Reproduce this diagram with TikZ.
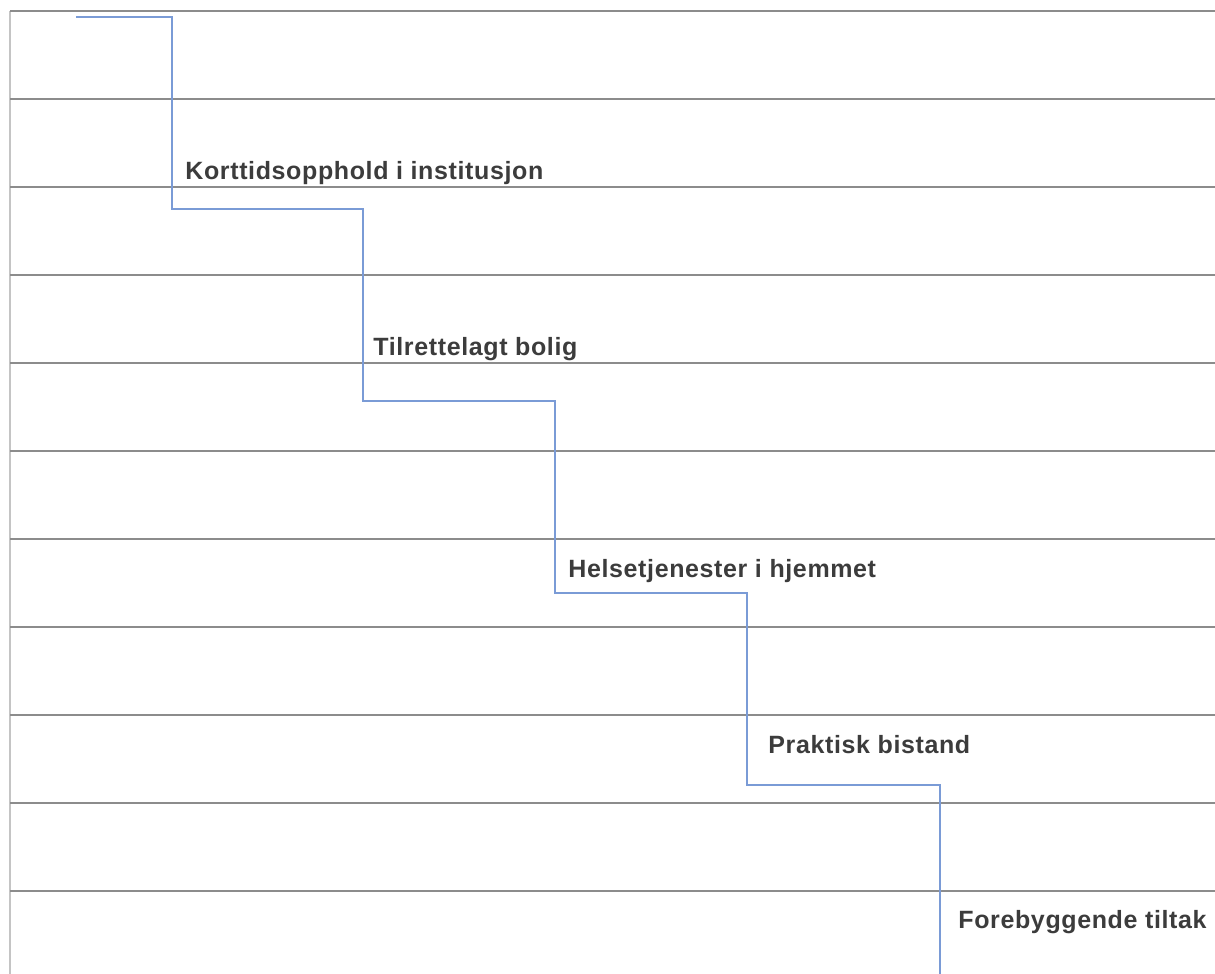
\documentclass[tikz,border=0pt]{standalone}
\usepackage{fontspec}
\newfontfamily\labelfont[LetterSpace=2.5]{Liberation Sans}
\definecolor{rulegray}{HTML}{8C8C8C}
\definecolor{edgegray}{HTML}{C4C4C4}
\definecolor{stairblue}{HTML}{7A9BD6}
\definecolor{textgray}{HTML}{3C3C3C}
\tikzset{
    rowline/.style={line width=0.7pt, rulegray},
    stairline/.style={line width=0.7pt, stairblue},
    steplabel/.style={anchor=base west, inner sep=0pt, text=textgray,
        font=\labelfont\bfseries\fontsize{12.5}{15}\selectfont}
}
\begin{document}
\begin{tikzpicture}[x=0.5pt, y=-0.5pt]
    \useasboundingbox (0,0) rectangle (1215,974);

    % Rows
    \draw[line width=0.7pt, edgegray] (10,11) -- (10,974);
    \foreach \i in {0,...,10} {
        \draw[rowline] (10,11+88*\i) -- (1215,11+88*\i);
    }

    % Staircase corners
    \coordinate (start) at (76,17);
    \coordinate (c1) at (172,209);
    \coordinate (c2) at (363,401);
    \coordinate (c3) at (555,593);
    \coordinate (c4) at (747,785);
    \coordinate (end) at (940,974);
    \draw[stairline] (start) -| (c1) -| (c2) -| (c3) -| (c4) -| (end);

    % Step labels
    \node[steplabel] (kort) at (185,179) {Korttidsopphold i institusjon};
    \node[steplabel] (bolig) at (373,355) {Tilrettelagt bolig};
    \node[steplabel] (helse) at (568,577) {Helsetjenester i hjemmet};
    \node[steplabel] (bistand) at (768,753) {Praktisk bistand};
    \node[steplabel] (tiltak) at (958,928) {Forebyggende tiltak};
\end{tikzpicture}
\end{document}
